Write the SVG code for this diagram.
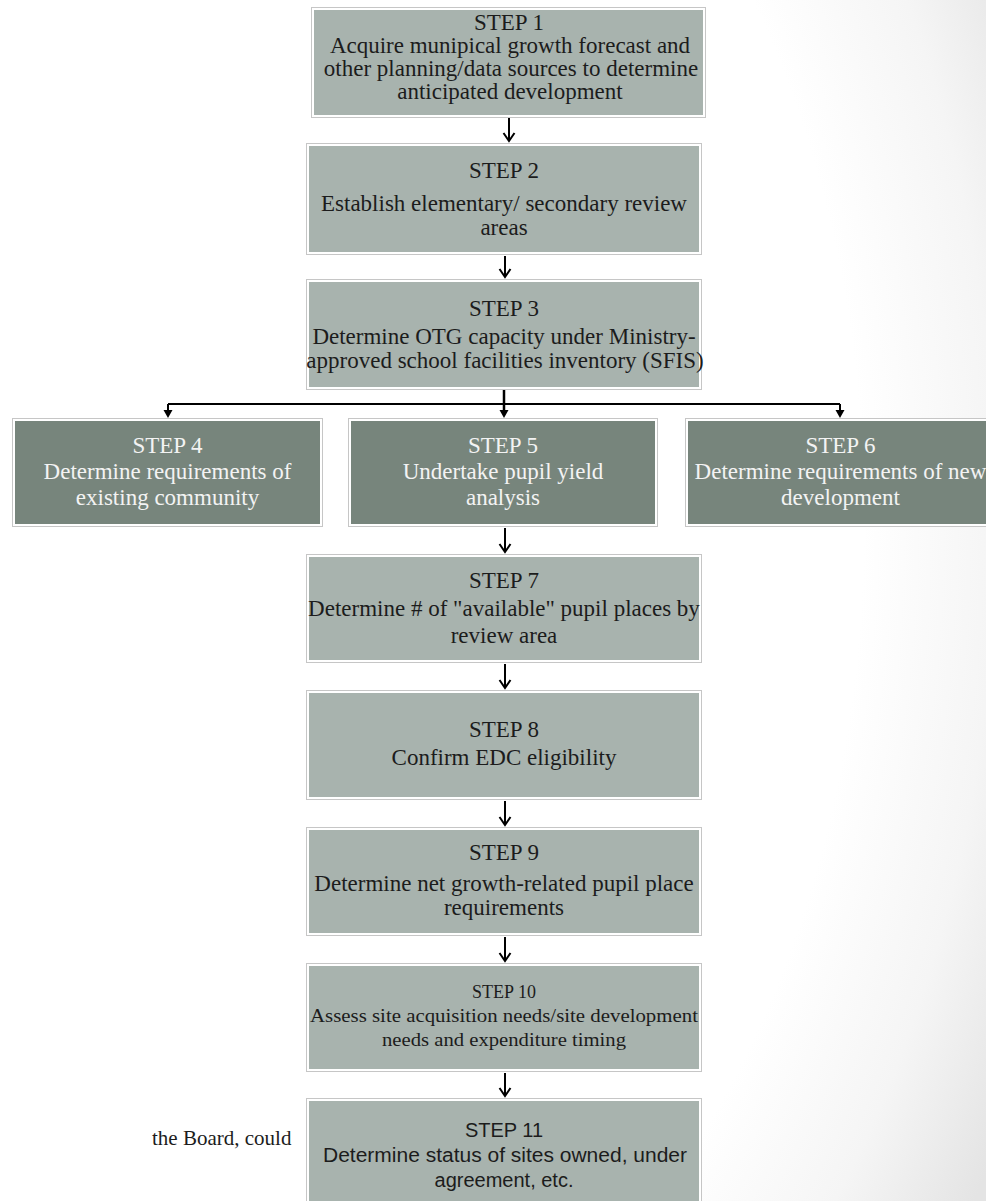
<svg xmlns="http://www.w3.org/2000/svg" width="986" height="1201" viewBox="0 0 986 1201">
<defs>
<radialGradient id="bg" gradientUnits="userSpaceOnUse" cx="230" cy="520" r="880" gradientTransform="translate(230 520) scale(1 1.45) translate(-230 -520)">
<stop offset="0.72" stop-color="#ffffff"/>
<stop offset="0.87" stop-color="#f5f5f5"/>
<stop offset="1" stop-color="#e4e4e4"/>
</radialGradient>
</defs>
<style>
.frame{fill:#ffffff;stroke:#c6c6c6;stroke-width:1}
.light{fill:#a8b3ae}
.dark{fill:#77857c}
.t{font-family:"Liberation Serif","Times New Roman",serif;font-size:23px;text-anchor:middle;fill:#1c1c1c}
.tw{fill:#f3f3f3}
.small{font-size:18px}
.sans{font-family:"Liberation Sans",Arial,sans-serif;font-size:20px;text-anchor:middle;fill:#1c1c1c}
.line{stroke:#000;stroke-width:2;fill:none}
.head{stroke:#000;stroke-width:2;fill:none;stroke-linejoin:miter}
.tri{fill:#000}
</style>
<rect x="0" y="0" width="986" height="1201" fill="url(#bg)"/>

<g id="connectors">
<path class="line" d="M509 118 V141"/><path class="head" d="M503.5 133 L509 141 L514.5 133"/>
<path class="line" d="M505 256 V277"/><path class="head" d="M499.5 269 L505 277 L510.5 269"/>
<path class="line" d="M504 390 V411" style="stroke-width:2.5"/>
<path class="line" d="M168 404 H840"/>
<path class="line" d="M168 404 V411"/><path class="tri" d="M163.5 410 L172.5 410 L168 418 Z"/>
<path class="tri" d="M499.5 410 L508.5 410 L504 418 Z"/>
<path class="line" d="M840 404 V411"/><path class="tri" d="M835.5 410 L844.5 410 L840 418 Z"/>
<path class="line" d="M505 528 V552"/><path class="head" d="M499.5 544 L505 552 L510.5 544"/>
<path class="line" d="M505 664 V688"/><path class="head" d="M499.5 680 L505 688 L510.5 680"/>
<path class="line" d="M505 801 V825"/><path class="head" d="M499.5 817 L505 825 L510.5 817"/>
<path class="line" d="M505 937 V961"/><path class="head" d="M499.5 953 L505 961 L510.5 953"/>
<path class="line" d="M505 1073 V1096"/><path class="head" d="M499.5 1088 L505 1096 L510.5 1088"/>
</g>

<g id="step1">
<rect class="frame" x="311.5" y="7.5" width="394" height="110"/>
<rect class="light" x="314" y="10" width="389" height="105"/>
<text class="t" x="509" y="30">STEP 1</text>
<text class="t" x="510" y="53">Acquire munipical growth forecast and</text>
<text class="t" x="511" y="76">other planning/data sources to determine</text>
<text class="t" x="510" y="99">anticipated development</text>
</g>

<g id="step2">
<rect class="frame" x="306.5" y="143.5" width="395" height="111"/>
<rect class="light" x="309" y="146" width="390" height="106"/>
<text class="t" x="504" y="178">STEP 2</text>
<text class="t" x="504" y="211">Establish elementary/ secondary review</text>
<text class="t" x="504" y="235">areas</text>
</g>

<g id="step3">
<rect class="frame" x="306.5" y="279.5" width="395" height="110"/>
<rect class="light" x="309" y="282" width="390" height="105"/>
<text class="t" x="504" y="316">STEP 3</text>
<text class="t" x="504" y="344">Determine OTG capacity under Ministry-</text>
<text class="t" x="505" y="368">approved school facilities inventory (SFIS)</text>
</g>

<g id="step4">
<rect class="frame" x="12.5" y="418.5" width="310" height="108"/>
<rect class="dark" x="15" y="421" width="305" height="103"/>
<text class="t tw" x="167.5" y="453">STEP 4</text>
<text class="t tw" x="167.5" y="479">Determine requirements of</text>
<text class="t tw" x="167.5" y="505">existing community</text>
</g>

<g id="step5">
<rect class="frame" x="348.5" y="418.5" width="309" height="108"/>
<rect class="dark" x="351" y="421" width="304" height="103"/>
<text class="t tw" x="503" y="453">STEP 5</text>
<text class="t tw" x="503" y="479">Undertake pupil yield</text>
<text class="t tw" x="503" y="505">analysis</text>
</g>

<g id="step6">
<rect class="frame" x="685.5" y="418.5" width="310" height="108"/>
<rect class="dark" x="688" y="421" width="305" height="103"/>
<text class="t tw" x="840.5" y="453">STEP 6</text>
<text class="t tw" x="840.5" y="479">Determine requirements of new</text>
<text class="t tw" x="840.5" y="505">development</text>
</g>

<g id="step7">
<rect class="frame" x="306.5" y="554.5" width="395" height="108"/>
<rect class="light" x="309" y="557" width="390" height="103"/>
<text class="t" x="504" y="588">STEP 7</text>
<text class="t" x="504" y="616">Determine # of "available" pupil places by</text>
<text class="t" x="504" y="643">review area</text>
</g>

<g id="step8">
<rect class="frame" x="306.5" y="690.5" width="395" height="109"/>
<rect class="light" x="309" y="693" width="390" height="104"/>
<text class="t" x="504" y="737">STEP 8</text>
<text class="t" x="504" y="765">Confirm EDC eligibility</text>
</g>

<g id="step9">
<rect class="frame" x="306.5" y="827.5" width="395" height="108"/>
<rect class="light" x="309" y="830" width="390" height="103"/>
<text class="t" x="504" y="860">STEP 9</text>
<text class="t" x="504" y="891">Determine net growth-related pupil place</text>
<text class="t" x="504" y="915">requirements</text>
</g>

<g id="step10">
<rect class="frame" x="306.5" y="963.5" width="395" height="108"/>
<rect class="light" x="309" y="966" width="390" height="103"/>
<text class="t small" x="504" y="998">STEP 10</text>
<text class="t small" x="504" y="1022" textLength="388" lengthAdjust="spacingAndGlyphs">Assess site acquisition needs/site development</text>
<text class="t small" x="504" y="1046" textLength="244" lengthAdjust="spacingAndGlyphs">needs and expenditure timing</text>
</g>

<g id="step11">
<rect class="frame" x="306.5" y="1098.5" width="395" height="120"/>
<rect class="light" x="309" y="1101" width="390" height="115"/>
<text class="sans" x="504" y="1137">STEP 11</text>
<text class="sans" x="505" y="1162" textLength="364" lengthAdjust="spacingAndGlyphs">Determine status of sites owned, under</text>
<text class="sans" x="504" y="1187">agreement, etc.</text>
</g>

<text x="152" y="1145" style="font-family:'Liberation Serif','Times New Roman',serif;font-size:21px;fill:#1c1c1c">the Board, could</text>
</svg>
